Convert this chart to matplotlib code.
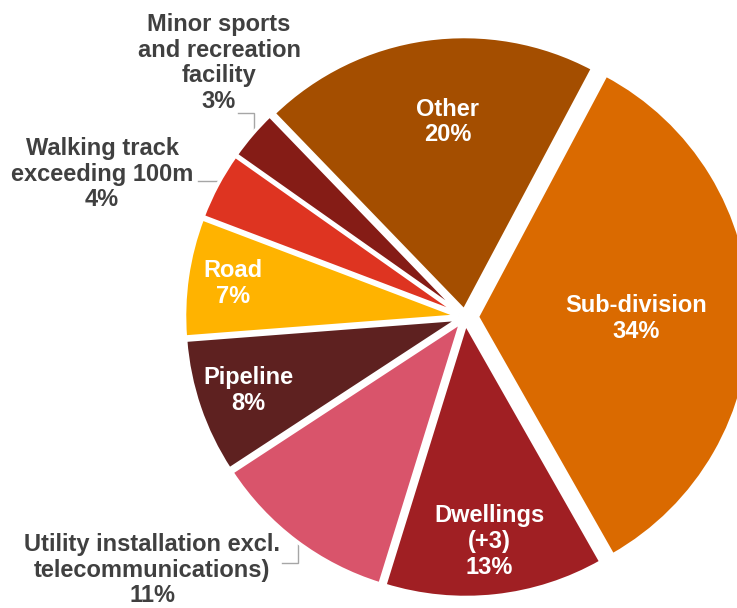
import matplotlib
matplotlib.use("Agg")
import matplotlib.pyplot as plt
import numpy as np

plt.rcParams.update({
    "font.family": ["Liberation Sans", "DejaVu Sans"],
    "font.weight": "bold",
})

# ── data ──────────────────────────────────────────────────────────────────────
categories = [
    "Sub-division",
    "Dwellings\n(+3)",
    "Utility installation excl.\ntelecommunications)",
    "Pipeline",
    "Road",
    "Walking track\nexceeding 100m",
    "Minor sports\nand recreation\nfacility",
    "Other",
]
shares = [34, 13, 11, 8, 7, 4, 3, 20]

# ── style / layout ────────────────────────────────────────────────────────────
colors = ["#DA6A00", "#A01F23", "#D9546B", "#5E2120",
          "#FFB300", "#DE3421", "#851C16", "#A44E00"]
explode = [0.045, 0.024, 0.024, 0.024, 0.024, 0.024, 0.024, 0.024]

W, H = 737, 608
CX, CY, SCALE = 465, 317, 274          # pie centre / radius in pixels


def px(x, y):
    return (x - CX) / SCALE, (CY - y) / SCALE


# inside labels: radial distance (fraction of radius) and angle nudge (deg)
inside_dist = [0.58, 0.80, None, 0.81, 0.83, None, None, 0.69]
inside_nudge = [-1.5, 0, 0, 0, 0, 0, 0, -3.0]
# outside labels: text centre (px) and leader start (px)
outside = {
    2: dict(text=(152, 570), start=(282, 563)),
    5: dict(text=(102, 174), start=(198, 181)),
    6: dict(text=(219, 63), start=(238, 113)),
}

fig = plt.figure(figsize=(W / 100, H / 100), dpi=100)
ax = fig.add_axes([0, 0, 1, 1])

wedges, _ = ax.pie(
    shares, colors=colors, explode=explode, startangle=62,
    counterclock=False, radius=1.0,
    wedgeprops=dict(edgecolor="white", linewidth=2.6),
)

ax.set_xlim(-CX / SCALE, (W - CX) / SCALE)
ax.set_ylim(-(H - CY) / SCALE, CY / SCALE)
ax.set_aspect("equal")
ax.axis("off")

for i, (w, lab, val) in enumerate(zip(wedges, categories, shares)):
    mid = np.deg2rad((w.theta1 + w.theta2) / 2 + inside_nudge[i])
    cx, cy = w.center
    text = f"{lab}\n{val}%"
    if inside_dist[i] is not None:
        d = inside_dist[i]
        ax.text(cx + d * np.cos(mid), cy + d * np.sin(mid), text,
                ha="center", va="center", color="white",
                fontsize=17, fontweight="bold", linespacing=1.15)
    else:
        o = outside[i]
        tx, ty = px(*o["text"])
        ax.text(tx, ty, text, ha="center", va="center", color="#404040",
                fontsize=17, fontweight="bold", linespacing=1.15)
        sx, sy = px(*o["start"])
        ex, ey = cx + 0.99 * np.cos(mid), cy + 0.99 * np.sin(mid)
        ax.plot([sx, ex, ex], [sy, sy, ey], color="#A6A6A6", lw=1,
                solid_joinstyle="miter", zorder=0)

fig.savefig("out.png", dpi=100)
